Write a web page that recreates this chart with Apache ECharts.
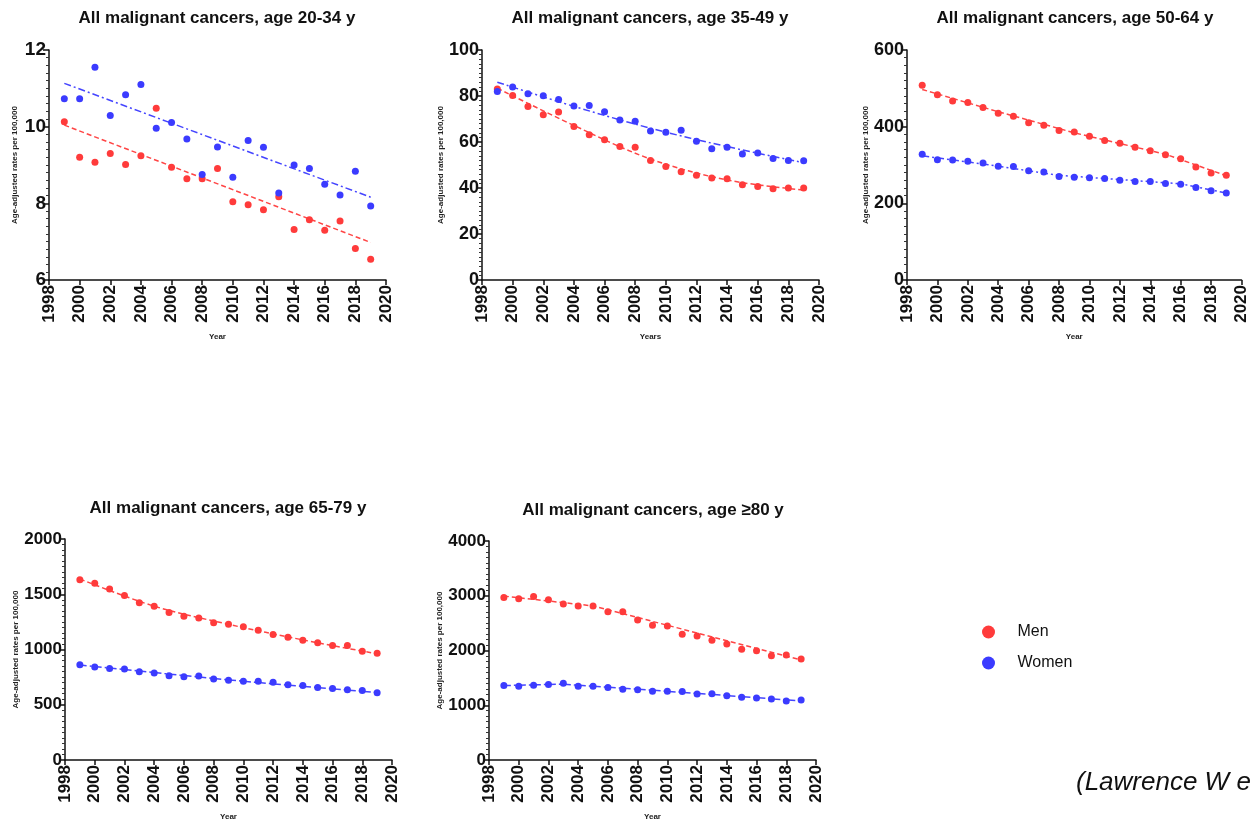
<!DOCTYPE html>
<html>
<head>
<meta charset="utf-8">
<title>All malignant cancers by age group</title>
<script src="https://cdn.jsdelivr.net/npm/echarts@6/dist/echarts.min.js"></script>
<style>
  html, body { margin: 0; padding: 0; background: #fff; }
  #chart { width: 1250px; height: 822px; }
</style>
</head>
<body>
<div id="chart"></div>
<script>
// Calendar years of observation
const years = [1999, 2000, 2001, 2002, 2003, 2004, 2005, 2006, 2007, 2008, 2009,
               2010, 2011, 2012, 2013, 2014, 2015, 2016, 2017, 2018, 2019];

// Age-adjusted incidence rates per 100,000, one value per year
const men2034   = [10.13, 9.20, 9.07, 9.30, 9.01, 9.24, 10.48, 8.94, 8.64, 8.64, 8.91, 8.04, 7.96, 7.83, 8.17, 7.32, 7.57, 7.30, 7.54, 6.82, 6.54];
const women2034 = [10.73, 10.73, 11.55, 10.29, 10.83, 11.10, 9.96, 10.11, 9.68, 8.75, 9.47, 8.68, 9.64, 9.46, 8.27, 9.00, 8.91, 8.50, 8.22, 8.84, 7.93];

const men3549   = [83.0, 80.2, 75.4, 71.8, 73.0, 66.7, 63.1, 61.0, 58.0, 57.7, 52.0, 49.3, 47.1, 45.5, 44.3, 44.0, 41.4, 40.7, 39.7, 40.0, 40.0];
const women3549 = [82.0, 83.9, 81.0, 80.1, 78.5, 75.6, 75.9, 73.1, 69.6, 69.0, 64.8, 64.2, 65.1, 60.3, 57.1, 57.7, 54.8, 55.2, 52.8, 52.0, 51.9];

const men5064   = [508, 483, 467, 463, 450, 435, 427, 410, 404, 390, 386, 375, 364, 357, 346, 337, 327, 316, 295, 279, 273];
const women5064 = [328, 314, 313, 310, 305, 297, 296, 285, 282, 270, 268, 267, 265, 260, 257, 257, 252, 250, 241, 233, 227];

const men6579   = [1632, 1599, 1548, 1488, 1422, 1392, 1335, 1302, 1284, 1243, 1228, 1207, 1174, 1135, 1111, 1084, 1060, 1036, 1036, 985, 967];
const women6579 = [862, 841, 829, 823, 799, 787, 763, 754, 760, 734, 722, 713, 713, 704, 680, 674, 656, 647, 635, 629, 608];

const men80     = [2970, 2946, 2988, 2928, 2850, 2814, 2814, 2707, 2707, 2557, 2461, 2449, 2299, 2263, 2186, 2120, 2024, 1994, 1904, 1916, 1844];
const women80   = [1359, 1347, 1365, 1377, 1401, 1347, 1347, 1323, 1293, 1281, 1257, 1257, 1251, 1204, 1210, 1174, 1144, 1132, 1114, 1078, 1096];

// Fitted trend lines, [year, rate] knots
const menTrend2034   = [[1999, 10.04], [2019, 6.98]];
const womenTrend2034 = [[1999, 11.13], [2019, 8.16]];
const menTrend3549   = [[1999, 83.4], [2004, 67.2], [2009, 52.6], [2014, 43.5], [2019, 39.1]];
const womenTrend3549 = [[1999, 86.0], [2004, 75.5], [2009, 66.0], [2014, 58.0], [2019, 51.0]];
const menTrend5064   = [[1999, 497], [2004, 439], [2009, 384], [2015, 328], [2019, 272]];
const womenTrend5064 = [[1999, 324], [2004, 297], [2008, 273], [2016, 251], [2019, 227]];
const menTrend6579   = [[1999, 1638], [2004, 1392], [2009, 1228], [2014, 1087], [2019, 961]];
const womenTrend6579 = [[1999, 860], [2009, 725], [2019, 610]];
const menTrend80     = [[1999, 2994], [2005, 2814], [2019, 1826]];
const womenTrend80   = [[1999, 1360], [2003, 1385], [2010, 1255], [2019, 1080]];

// Panel titles and axis ranges
const titles = [
  'All malignant cancers, age 20-34 y',
  'All malignant cancers, age 35-49 y',
  'All malignant cancers, age 50-64 y',
  'All malignant cancers, age 65-79 y',
  'All malignant cancers, age \u226580 y'
];
const xNames = ['Year', 'Years', 'Year', 'Year', 'Year'];
const yName = 'Age-adjusted rates per 100,000';
const yRanges = [[6, 12, 2], [0, 100, 20], [0, 600, 200], [0, 2000, 500], [0, 4000, 1000]];
const xRange = [1998, 2020, 2];
const legendNames = ['Men', 'Women'];
const citation = '(Lawrence W et al.)';

const menSets = [men2034, men3549, men5064, men6579, men80];
const womenSets = [women2034, women3549, women5064, women6579, women80];
const menTrends = [menTrend2034, menTrend3549, menTrend5064, menTrend6579, menTrend80];
const womenTrends = [womenTrend2034, womenTrend3549, womenTrend5064, womenTrend6579, womenTrend80];

// Layout of the five plotting areas
const layout = [
  { grid: { left: 49,  top: 50,  width: 337, height: 230 }, titleX: 217, titleY: 18,  yFont: 19, smooth: false },
  { grid: { left: 482, top: 50,  width: 337, height: 230 }, titleX: 650, titleY: 18,  yFont: 18, smooth: 0.35 },
  { grid: { left: 907, top: 50,  width: 337, height: 230 }, titleX: 1075, titleY: 18, yFont: 18, smooth: false },
  { grid: { left: 65,  top: 539, width: 327, height: 223 }, titleX: 228, titleY: 508, yFont: 17, smooth: 0.35 },
  { grid: { left: 489, top: 541, width: 327, height: 222 }, titleX: 653, titleY: 510, yFont: 17, smooth: false }
];

const RED = '#ff3b3b';
const BLUE = '#3b3bff';
const FONT = '"Liberation Sans", Arial, sans-serif';

const grids = [], xAxes = [], yAxes = [], series = [], graphics = [];

layout.forEach((p, i) => {
  grids.push(Object.assign({ containLabel: false }, p.grid));

  xAxes.push({
    gridIndex: i, type: 'value',
    min: xRange[0], max: xRange[1], interval: xRange[2],
    name: xNames[i], nameLocation: 'middle', nameGap: 53,
    nameTextStyle: { fontFamily: FONT, fontSize: 8, fontWeight: 'bold', color: '#222' },
    axisLine: { show: true, onZero: false, lineStyle: { color: '#111', width: 1.5 } },
    axisTick: { show: true, length: 5, lineStyle: { color: '#111', width: 1.5 } },
    splitLine: { show: false },
    axisLabel: {
      rotate: 90, margin: 5, color: '#111', fontFamily: FONT, fontWeight: 'bold', fontSize: 17,
      formatter: v => String(v)
    }
  });

  yAxes.push({
    gridIndex: i, type: 'value',
    min: yRanges[i][0], max: yRanges[i][1], interval: yRanges[i][2],
    name: yName, nameLocation: 'middle', nameGap: 30,
    nameTextStyle: { fontFamily: FONT, fontSize: 8, fontWeight: 'bold', color: '#222' },
    axisLine: { show: true, onZero: false, lineStyle: { color: '#111', width: 1.5 } },
    axisTick: { show: true, length: 6, lineStyle: { color: '#111', width: 1.5 } },
    minorTick: { show: true, splitNumber: 10, length: 3, lineStyle: { color: '#333', width: 1 } },
    splitLine: { show: false },
    minorSplitLine: { show: false },
    axisLabel: {
      margin: 3, color: '#111', fontFamily: FONT, fontWeight: 'bold', fontSize: p.yFont,
      formatter: v => String(v)
    }
  });

  const pts = arr => years.map((y, k) => [y, arr[k]]);

  series.push({
    name: 'Men trend', type: 'line', xAxisIndex: i, yAxisIndex: i,
    data: menTrends[i], showSymbol: false, smooth: p.smooth, silent: true,
    lineStyle: { color: '#ff4545', width: 1.5, type: [5, 3] }, z: 2
  });
  series.push({
    name: 'Women trend', type: 'line', xAxisIndex: i, yAxisIndex: i,
    data: womenTrends[i], showSymbol: false, smooth: p.smooth, silent: true,
    lineStyle: { color: '#4545ff', width: 1.5, type: [7, 3, 2, 3] }, z: 2
  });
  series.push({
    name: legendNames[0], type: 'scatter', xAxisIndex: i, yAxisIndex: i,
    data: pts(menSets[i]), symbolSize: 7, itemStyle: { color: RED, opacity: 1 }, z: 3
  });
  series.push({
    name: legendNames[1], type: 'scatter', xAxisIndex: i, yAxisIndex: i,
    data: pts(womenSets[i]), symbolSize: 7, itemStyle: { color: BLUE, opacity: 1 }, z: 3
  });

  graphics.push({
    type: 'text', x: p.titleX, y: p.titleY,
    style: {
      text: titles[i], fill: '#111', align: 'center', verticalAlign: 'middle',
      font: 'bold 17px ' + FONT
    }
  });
});

graphics.push({
  type: 'text', x: 1076, y: 783,
  style: {
    text: citation, fill: '#111', align: 'left', verticalAlign: 'middle',
    font: 'italic 26px ' + FONT
  }
});

const chart = echarts.init(document.getElementById('chart'), null, { renderer: 'canvas' });
chart.setOption({
  animation: false,
  backgroundColor: '#ffffff',
  grid: grids,
  xAxis: xAxes,
  yAxis: yAxes,
  legend: {
    data: legendNames.map(n => ({ name: n, icon: 'circle' })),
    orient: 'vertical', left: 977, top: 619,
    itemWidth: 38, itemHeight: 13, itemGap: 15,
    textStyle: { fontFamily: FONT, fontSize: 16, color: '#111', padding: [0, 0, 0, 5] },
    selectedMode: false
  },
  graphic: graphics,
  series: series
});
</script>
</body>
</html>
